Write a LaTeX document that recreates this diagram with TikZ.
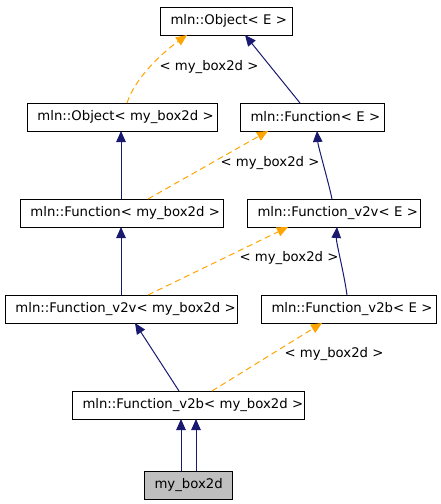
\documentclass[tikz,border=0pt]{standalone}
\usepackage{fontspec}
\setmainfont{DejaVu Sans}
\usetikzlibrary{arrows.meta}
\definecolor{navyc}{HTML}{191970}
\definecolor{orangec}{HTML}{FFA500}
\definecolor{grayc}{HTML}{BFBFBF}
\tikzset{
  cls/.style={draw=black, line width=1pt, rectangle, anchor=north west, outer sep=0pt,
    inner xsep=10.5pt, inner ysep=0pt, minimum height=28pt, align=left, text width=#1,
    font=\fontsize{13.25}{15}\selectfont},
  inh/.style={draw=navyc, line width=1pt, -{Triangle[length=11pt,width=9.5pt]}, fill=none},
  tpl/.style={draw=orangec, line width=1pt, dash pattern=on 6pt off 4pt, -{Triangle[length=11pt,width=9.5pt,fill=orangec]}},
  lbl/.style={font=\fontsize{13.25}{15}\selectfont, inner sep=0pt}
}
\begin{document}
\begin{tikzpicture}[x=1pt,y=-1pt]
\useasboundingbox (0,0) rectangle (440,504);
\node[cls=111pt] (oe) at (160,7) {\mbox{mln::Object< E >}};
\node[cls=169pt] (om) at (27,103) {\mbox{mln::Object< my\_box2d >}};
\node[cls=123pt] (fe) at (240,103) {\mbox{mln::Function< E >}};
\node[cls=182pt] (fm) at (20,199) {\mbox{mln::Function< my\_box2d >}};
\node[cls=152pt] (ve) at (247,199) {\mbox{mln::Function\_v2v< E >}};
\node[cls=211pt] (vm) at (5,295) {\mbox{mln::Function\_v2v< my\_box2d >}};
\node[cls=154pt] (be) at (261,295) {\mbox{mln::Function\_v2b< E >}};
\node[cls=211pt] (bm) at (72,391) {\mbox{mln::Function\_v2b< my\_box2d >}};
\node[cls=67pt, fill=grayc] (my) at (144,471) {\mbox{my\_box2d}};

\node[lbl] (l1) at (209,67) {< my\_box2d >};
\node[lbl] (l2) at (270,163) {< my\_box2d >};
\node[lbl] (l3) at (289,258) {< my\_box2d >};
\node[lbl] (l4) at (334,354) {< my\_box2d >};

% template edges
\draw[tpl] ([xshift=100pt]om.north west) .. controls +(8,-25) and +(-25,18) .. ([xshift=27pt]oe.south west);
\draw[tpl] ([xshift=128pt]fm.north west) -- ([xshift=28pt]fe.south west);
\draw[tpl] ([xshift=143pt]vm.north west) -- ([xshift=41pt]ve.south west);
\draw[tpl] ([xshift=140pt]bm.north west) -- ([xshift=61pt]be.south west);

% inheritance edges
\draw[inh] ([xshift=60pt]fe.north west) -- ([xshift=85pt]oe.south west);
\draw[inh] ([xshift=101pt]fm.north west) -- ([xshift=94pt]om.south west);
\draw[inh] ([xshift=85pt]ve.north west) .. controls +(-3,-15) and +(1,15) .. ([xshift=77pt]fe.south west);
\draw[inh] ([xshift=116pt]vm.north west) -- ([xshift=101pt]fm.south west);
\draw[inh] ([xshift=86pt]be.north west) .. controls +(-3,-22) and +(-1,15) .. ([xshift=90pt]ve.south west);
\draw[inh] ([xshift=107pt]bm.north west) -- ([xshift=130pt]vm.south west);
\draw[inh] ([xshift=37pt]my.north west) -- ([xshift=109pt]bm.south west);
\draw[inh] ([xshift=52pt]my.north west) -- ([xshift=124pt]bm.south west);
\end{tikzpicture}
\end{document}
